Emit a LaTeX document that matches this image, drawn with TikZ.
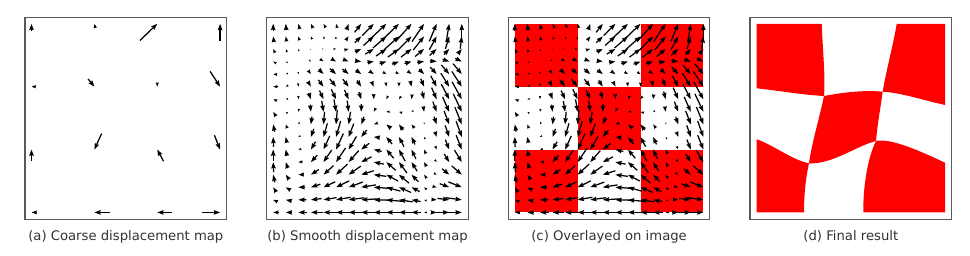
\documentclass[tikz,border=0pt]{standalone}
\usepackage{fontspec}
\setsansfont{DejaVu Sans}
\usetikzlibrary{arrows.meta}
\definecolor{framegray}{RGB}{90,90,90}
\definecolor{capgray}{RGB}{50,50,50}
\definecolor{boardred}{RGB}{255,0,0}

\tikzset{
  panel/.style={draw=framegray, line width=1.1pt},
  caption/.style={font=\sffamily\fontsize{13.2}{16}\selectfont, text=capgray, anchor=base},
  board/.style={fill=boardred},
  declare function={cr(\qa,\qb,\qc,\qd,\qt)=(\qb)+0.5*(\qt)*((\qc)-(\qa)+(\qt)*(2*(\qa)-5*(\qb)+4*(\qc)-(\qd)+(\qt)*(3*(\qb)-3*(\qc)+(\qd)-(\qa))));}
}

% coarse 4x4 displacements, row/col/dx/dy (dy downwards)
\foreach \row/\col/\du/\dv in {0/0/0/-6.7, 0/1/-1/-4, 0/2/17.3/-16.7, 0/3/0/-17.3,
    1/0/-4/0, 1/1/6.3/7.7, 1/2/0/4, 1/3/10/15.3,
    2/0/0/-11, 2/1/-7.3/16, 2/2/-6.3/-11.7, 2/3/5.7/14.3,
    3/0/-5/0, 3/1/-15.7/0, 3/2/-15/0, 3/3/18.3/0}{%
  \expandafter\xdef\csname cu\row\col\endcsname{\du}%
  \expandafter\xdef\csname cv\row\col\endcsname{\dv}}

\newcommand\cval[3]{\csname c#1#2#3\endcsname}
\newcommand\rw[2]{cr(\cval#1#2\ja,\cval#1#2\jb,\cval#1#2\jc,\cval#1#2\jd,\tj)}
\newcommand\fld[1]{cr(\rw#1\ia,\rw#1\ib,\rw#1\ic,\rw#1\id,\ti)}

% quiver arrow, pivot at the tip: tip x, tip y, dx, dy
\newcommand\quiv[4]{%
  \pgfmathsetmacro\qlen{veclen(#3,#4)}%
  \pgfmathsetmacro\qk{min(1,\qlen/6)}%
  \pgfmathsetmacro\qlw{1.25*\qk}%
  \pgfmathsetmacro\qhl{6.2*\qk}%
  \pgfmathsetmacro\qhw{4.4*\qk}%
  \pgfmathsetmacro\qin{0.6*\qk}%
  \ifdim\qlen pt>0.6pt
    \draw[line width=\qlw pt, -{Stealth[length=\qhl pt, width=\qhw pt, inset=\qin pt]}]
      ({(#1)-(#3)},{(#2)-(#4)}) -- ({#1},{#2});
  \fi}

\begin{document}
\begin{tikzpicture}[x=1pt, y=-1pt]
  \useasboundingbox (0,0) rectangle (970,255);

  % (c) board under the arrows
  \foreach \row/\col in {0/0,0/2,1/1,2/0,2/2}
    \fill[board] (514.8+62.87*\col,23.8+62.87*\row) rectangle ++(62.87,62.87);

  % (a)
  \foreach \row in {0,...,3}
    \foreach \col in {0,...,3}{
      \edef\eu{\cval u\row\col}\edef\ev{\cval v\row\col}
      \quiv{31.5+62.87*\col}{23.8+62.87*\row}{\eu}{\ev}
    }

  % (b) and (c)
  \foreach \i in {0,...,15}{
    \pgfmathtruncatemacro\ib{min(floor(\i/5),2)}
    \pgfmathsetmacro\ti{\i/5-\ib}
    \pgfmathtruncatemacro\ia{max(\ib-1,0)}
    \pgfmathtruncatemacro\ic{\ib+1}
    \pgfmathtruncatemacro\id{min(\ib+2,3)}
    \foreach \j in {0,...,15}{
      \pgfmathtruncatemacro\jb{min(floor(\j/5),2)}
      \pgfmathsetmacro\tj{\j/5-\jb}
      \pgfmathtruncatemacro\ja{max(\jb-1,0)}
      \pgfmathtruncatemacro\jc{\jb+1}
      \pgfmathtruncatemacro\jd{min(\jb+2,3)}
      \edef\exu{\fld u}\edef\exv{\fld v}
      \pgfmathsetmacro\su{\exu}
      \pgfmathsetmacro\sv{\exv}
      \quiv{273.2+12.573*\j}{23.8+12.573*\i}{\su}{\sv}
      \quiv{514.8+12.573*\j}{23.8+12.573*\i}{\su}{\sv}
    }
  }

  % (d)
  \begin{scope}[shift={(756.5,23.8)}]
    \coordinate (T1) at (65.2,0);      \coordinate (T2) at (140.2,0);
    \coordinate (L1) at (0,64.5);      \coordinate (L2) at (0,115.5);
    \coordinate (R1) at (188.6,81.2);  \coordinate (R2) at (188.6,138.9);
    \coordinate (B1) at (47.5,188.6);  \coordinate (B2) at (106.8,188.6);
    \coordinate (J1) at (67.5,72.2);   \coordinate (J2) at (126.2,67.9);
    \coordinate (J3) at (52.5,139.5);  \coordinate (J4) at (119.5,117.2);
    \fill[board] (0,0) -- (T1) .. controls (66.5,30) and (69,55) .. (J1)
      .. controls (45,71) and (20,66.5) .. (L1) -- cycle;
    \fill[board] (T2) -- (188.6,0) -- (R1) .. controls (165,76) and (145,69) .. (J2)
      .. controls (130,45) and (137,20) .. (T2) -- cycle;
    \fill[board] (J1) .. controls (85,69) and (105,66) .. (J2)
      .. controls (124,84) and (121,100) .. (J4)
      .. controls (100,122) and (75,141) .. (J3)
      .. controls (55,120) and (64,90) .. (J1) -- cycle;
    \fill[board] (L2) .. controls (15,120) and (35,136) .. (J3)
      .. controls (49,155) and (47.5,172) .. (B1) -- (0,188.6) -- cycle;
    \fill[board] (J4) .. controls (135,114) and (165,128) .. (R2) -- (188.6,188.6)
      -- (B2) .. controls (106.5,160) and (112,132) .. (J4) -- cycle;
  \end{scope}

  \foreach \x in {25,266.7,508.3,750}
    \draw[panel] (\x,17.3) rectangle ++(201.6,202.4);

  \node[caption] (capa) at (125.8,240) {(a) Coarse displacement map};
  \node[caption] (capb) at (367.5,240) {(b) Smooth displacement map};
  \node[caption] (capc) at (609.1,240) {(c) Overlayed on image};
  \node[caption] (capd) at (850.8,240) {(d) Final result};
\end{tikzpicture}
\end{document}
